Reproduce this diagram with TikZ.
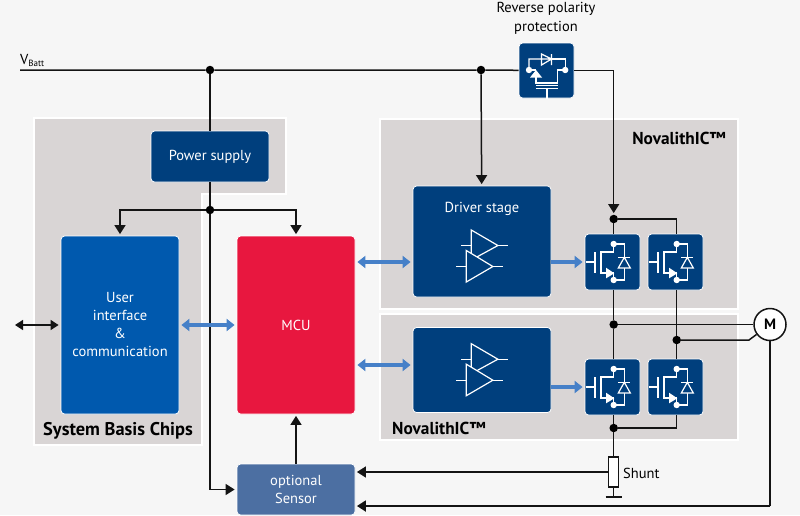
\documentclass[tikz,border=0pt]{standalone}
\usepackage{fontspec}
\setmainfont{PT Sans}
\usetikzlibrary{arrows.meta}
\definecolor{bgcol}{HTML}{F6F6F6}
\definecolor{panelcol}{HTML}{D9D5D5}
\definecolor{navy}{HTML}{003F7D}
\definecolor{uiblue}{HTML}{0059AE}
\definecolor{mcured}{HTML}{E8173F}
\definecolor{sensblue}{HTML}{4C6FA2}
\definecolor{flowblue}{HTML}{4680C8}
\definecolor{wirecol}{HTML}{141414}
\tikzset{
  panel/.style={fill=panelcol,draw=white,line width=1.2pt},
  block/.style={rectangle,rounded corners=3.5pt,fill=#1,draw=white,line width=0.8pt,text=white,align=center,
    font=\fontsize{14.5}{18}\selectfont},
  block/.default=navy,
  dot/.style={circle,fill=black,inner sep=0pt,minimum size=8.5pt},
  wire/.style={draw=wirecol,line width=1.5pt},
  arr/.style={wire,-{Triangle[width=11pt,length=9pt]},shorten >=1.5pt},
  biarr/.style={wire,{Triangle[width=10pt,length=8pt]}-{Triangle[width=10pt,length=8pt]},shorten >=2pt},
  flow/.style={draw=flowblue,line width=3.6pt,-{Triangle[width=12pt,length=8pt]},shorten >=2pt},
  biflow/.style={flow,{Triangle[width=12pt,length=8pt]}-{Triangle[width=12pt,length=8pt]},shorten <=2pt},
  heading/.style={font=\fontsize{17.3}{19}\selectfont\bfseries,text=black,inner sep=0pt},
  label/.style={font=\fontsize{14.5}{19}\selectfont,text=black,inner sep=0pt,align=center},
  sym/.style={draw=white,line width=1.2pt,line join=miter},
  fet/.pic={
    \draw[sym] (-28,0) -- (-18.7,0) (-18.7,-10) -- (-18.7,11);
    \draw[sym] (0,-18) -- (0,-10) -- (-12.7,-10) -- (-12.7,11) -- (0,11) -- (0,18);
    \fill[white] (-7.7,5.7) -- (-7.7,16.3) -- (0.6,11.3) -- cycle;
    \draw[sym] (0,-18) -- (10.6,-18) -- (10.6,18) -- (0,18);
    \draw[sym,fill=navy] (10.6,-4.7) -- (4.6,6) -- (16.6,6) -- cycle;
    \draw[sym] (4.6,-4.7) -- (16.6,-4.7);
    \fill[white] (0,-18) circle (3.2) (0,18) circle (3.2);
  },
  amps/.pic={
    \draw[sym] (-18.3,-9.5) -- (-8.3,-9.5) (18.3,-9.5) -- (28.3,-9.5);
    \draw[sym] (-8.3,-25) -- (-8.3,5) -- (18.3,-9.5) -- cycle;
    \draw[sym] (-23.3,11.5) -- (-13.3,11.5) (13.3,11.5) -- (23.3,11.5);
    \draw[sym,fill=navy] (-13.3,-4.5) -- (-13.3,27) -- (13.3,11.5) -- cycle;
  },
  revfet/.pic={
    \draw[sym] (-17.5,0) -- (-17.5,-11) -- (5,-11) (5,-16) -- (5,-5) (-5,-16) -- (-5,-5) -- (5,-11) -- cycle;
    \draw[sym] (5,-11) -- (18.7,-11) -- (18.7,0);
    \draw[sym] (-17.5,0) -- (-10.5,0) (-10.5,7) -- (-10.5,13) -- (11,13) -- (11,0) -- (18.7,0);
    \fill[white] (-10.5,0) -- (-16.5,7.5) -- (-4.5,7.5) -- cycle;
    \draw[sym] (-10.5,15.5) -- (11,15.5) (-10.5,18.5) -- (11,18.5) (0.5,18.5) -- (0.5,29);
    \fill[white] (-17.5,0) circle (3.2) (18.7,0) circle (3.2);
  }
}
\begin{document}
\begin{tikzpicture}[x=1pt,y=-1pt]
\useasboundingbox (0,0) rectangle (800,515);
\fill[bgcol] (0,0) rectangle (800,515);

\draw[panel] (34,118) -- (286,118) -- (286,194) -- (202,194) -- (202,445) -- (34,445) -- cycle;
\draw[panel] (380,119) rectangle (738,309);
\draw[panel] (380,314) rectangle (738,440);

\node[block,minimum width=118pt,minimum height=51pt] (psu) at (210,156.5) {Power supply};
\node[block=uiblue,minimum width=118pt,minimum height=178pt] (ui) at (120,325) {User\\interface\\\&\\communication};
\node[block=mcured,minimum width=118pt,minimum height=178pt] (mcu) at (296,325) {MCU};
\node[block,minimum width=138pt,minimum height=111pt] (drv) at (482,241.5) {};
\node[block,minimum width=138pt,minimum height=85pt] (drvb) at (482,370) {};
\node[block=sensblue,minimum width=118pt,minimum height=51pt] (sensor) at (296,489.5) {optional\\Sensor};
\node[block,minimum width=55pt,minimum height=55pt] (rev) at (546.5,70.5) {};
\node[block,minimum width=55pt,minimum height=56pt] (fa) at (612.5,262) {};
\node[block,minimum width=55pt,minimum height=56pt] (fb) at (675.5,262) {};
\node[block,minimum width=55pt,minimum height=56pt] (fc) at (612.5,387) {};
\node[block,minimum width=55pt,minimum height=56pt] (fd) at (675.5,387) {};
\node[circle,draw=wirecol,line width=1.5pt,fill=white,minimum size=32pt,inner sep=0pt,font=\fontsize{15}{15}\selectfont\bfseries] (motor) at (770,324.5) {M};
\node[rectangle,draw=wirecol,line width=1.5pt,fill=white,minimum width=10pt,minimum height=30pt,inner sep=0pt] (shunt) at (613.7,472) {};

\node[dot] (da) at (210,70) {};
\node[dot] (db) at (481,70) {};
\node[dot] (dc) at (210,210) {};
\node[dot] (dd) at (613.7,219) {};
\node[dot] (de) at (613.7,324.5) {};
\node[dot] (df) at (676.7,340) {};
\node[dot] (dg) at (613.7,428) {};

\node[text=white,font=\fontsize{14.5}{15}\selectfont,inner sep=0pt] (drvlabel) at (482,208.5) {Driver stage};
\node[label] (revlabel) at (546,18.7) {Reverse polarity\\protection};
\node[heading,anchor=east] (novatop) at (726,138) {NovalithIC™};
\node[heading,anchor=west] (novabot) at (392,428) {NovalithIC™};
\node[heading,font=\fontsize{18.4}{19}\selectfont\bfseries] (sbc) at (118,431) {System Basis Chips};
\node[label,anchor=west] (shuntlabel) at (623,473) {Shunt};
\node[label,anchor=south west] (vbatt) at (20,67) {V\raisebox{-2pt}{\fontsize{9}{9}\selectfont Batt}};

\coordinate (railstart) at (20,70);
\coordinate (ext) at (15,325);
\coordinate (gnd) at (613.7,497);
\coordinate (bend) at (749,340);
\coordinate (back) at (770,506);
\coordinate (lowflow) at (384,365);

% supply rail
\draw[wire] (railstart) -- (da) -- (db) -- (rev);
\draw[arr] (rev) -| (dd);
\draw[wire] (da) -- (psu);
\draw[arr] (db) -- (drv);
\draw[wire] (psu) -- (dc);
\draw[arr] (dc) -| (ui);
\draw[arr] (dc) -| (mcu);
\draw[arr,shorten >=2pt] (dc) |- (sensor);
\draw[arr] (sensor) -- (mcu);

% bridge
\draw[wire] (dd) -- (dd |- fa.north);
\draw[wire] (dd) -| (df |- fb.north);
\draw[wire] (dd |- fa.south) -- (de) -- (dd |- fc.north);
\draw[wire] (df |- fb.south) -- (df) -- (df |- fd.north);
\draw[wire] (dg |- fc.south) -- (dg) -- (shunt);
\draw[wire] (dg) -| (df |- fd.south);
\draw[wire] (de) -- (motor);
\draw[wire] (df) -- (bend) -- (motor);
\draw[wire] (shunt) -- (gnd);
\draw[wire] ([xshift=-8pt]gnd) -- ([xshift=8pt]gnd);
\draw[arr] (shunt) -- (shunt -| sensor.east);
\draw[wire,line width=1.8pt] (motor) -- (back);
\draw[arr,line width=1.8pt] (back) -- (back -| sensor.east);

% signal flow
\draw[biarr] (ext) -- (ui);
\draw[biflow] (ui) -- (mcu);
\draw[biflow] (mcu.east |- fa) -- (drv.west |- fa);
\draw[biflow] (mcu.east |- lowflow) -- (drvb.west |- lowflow);
\draw[flow] (drv.east |- fa) -- (fa);
\draw[flow] (drvb.east |- fc) -- (fc);

% symbols
\pic at (613.7,262) {fet};
\pic at (676.7,262) {fet};
\pic at (613.7,387) {fet};
\pic at (676.7,387) {fet};
\pic at (479.6,255) {amps};
\pic at (479.6,368.7) {amps};
\pic at (546.5,70) {revfet};
\end{tikzpicture}
\end{document}
